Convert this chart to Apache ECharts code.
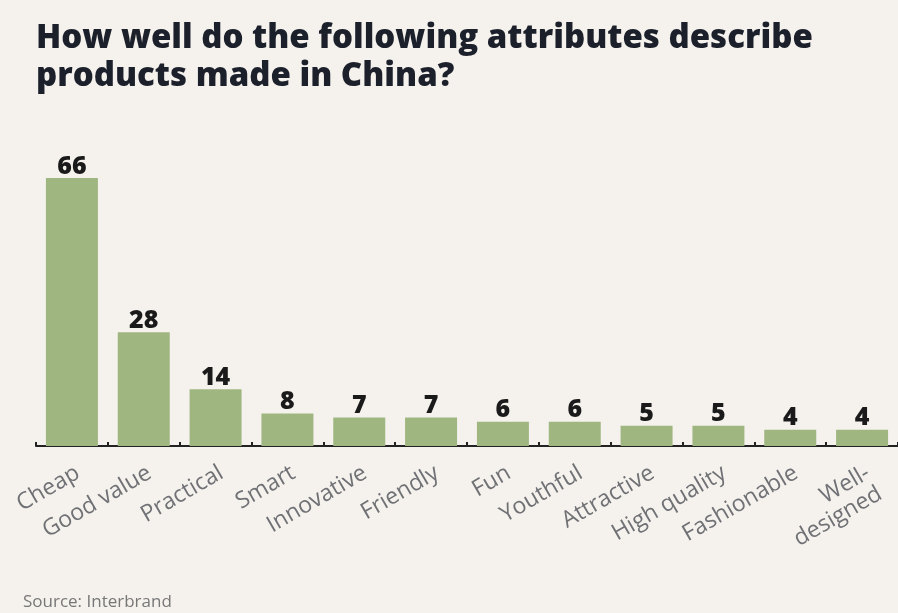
<!DOCTYPE html>
<html>
<head>
<meta charset="utf-8">
<script src="https://cdn.jsdelivr.net/npm/echarts@6/dist/echarts.min.js"></script>
<style>
  html, body { margin: 0; padding: 0; background: #f5f2ee; }
  #chart { width: 898px; height: 613px; }
</style>
</head>
<body>
<div id="chart"></div>
<script>
const categories = ['Cheap', 'Good value', 'Practical', 'Smart', 'Innovative', 'Friendly',
  'Fun', 'Youthful', 'Attractive', 'High quality', 'Fashionable', 'Well-\ndesigned'];
const values = [66, 28, 14, 8, 7, 7, 6, 6, 5, 5, 4, 4];

const chart = echarts.init(document.getElementById('chart'));

chart.setOption({
  backgroundColor: '#f5f2ee',
  animation: false,
  title: [
    {
      text: 'How well do the following attributes describe\nproducts made in China?',
      left: 31,
      top: 15,
      textStyle: {
        fontFamily: 'Open Sans',
        fontWeight: 800,
        fontSize: 33,
        lineHeight: 38,
        color: '#1b202b'
      }
    },
    {
      text: 'Source: Interbrand',
      left: 18,
      top: 589,
      textStyle: {
        fontFamily: 'Open Sans',
        fontWeight: 'normal',
        fontSize: 17,
        color: '#777'
      }
    }
  ],
  grid: { left: 36, right: -2, top: 178, bottom: 167 },
  xAxis: {
    type: 'category',
    data: categories,
    axisLine: { lineStyle: { color: '#222', width: 2 } },
    axisTick: { show: true, inside: true, length: 4, lineStyle: { color: '#222', width: 2 } },
    axisLabel: {
      rotate: 30,
      margin: 15,
      interval: 0,
      verticalAlign: 'top',
      fontFamily: 'Open Sans',
      fontSize: 23,
      lineHeight: 24,
      color: '#707175'
    }
  },
  yAxis: {
    type: 'value',
    min: 0,
    max: 66,
    show: false
  },
  series: [{
    type: 'bar',
    data: values,
    barWidth: 52,
    itemStyle: { color: '#a0b680' },
    label: {
      show: true,
      position: 'top',
      distance: -1,
      fontFamily: 'Open Sans',
      fontWeight: 800,
      fontSize: 25,
      color: '#1a1a1a'
    }
  }]
});
</script>
</body>
</html>
